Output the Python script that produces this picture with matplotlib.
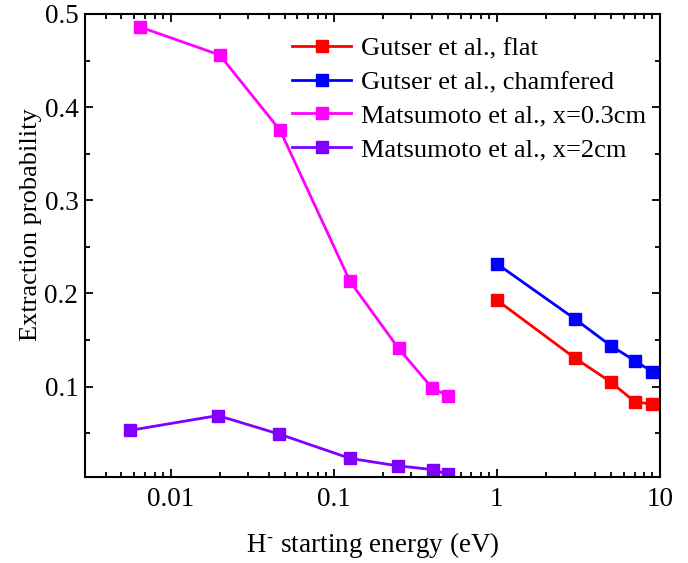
# extraction probability vs H- starting energy
import matplotlib
matplotlib.use("Agg")
import matplotlib.pyplot as plt
from matplotlib.ticker import MultipleLocator, FixedLocator, LogLocator, NullFormatter

plt.rcParams["font.family"] = ["Liberation Serif", "DejaVu Serif"]
plt.rcParams["mathtext.fontset"] = "stix"

# Gutser et al. (flat and chamfered)
gutser_energy = [1, 3, 5, 7, 9]
gutser_flat = [0.193, 0.131, 0.105, 0.084, 0.081]
gutser_chamfered = [0.232, 0.173, 0.144, 0.128, 0.116]

# Matsumoto et al.
mats_energy_03 = [0.0065, 0.02, 0.047, 0.126, 0.25, 0.40, 0.50]
mats_03 = [0.486, 0.456, 0.375, 0.213, 0.141, 0.099, 0.090]
mats_energy_2 = [0.0056, 0.0195, 0.0465, 0.126, 0.248, 0.405, 0.50]
mats_2 = [0.053, 0.069, 0.049, 0.023, 0.015, 0.011, 0.006]

fig = plt.figure(figsize=(6.88, 5.63), dpi=100)
ax = fig.add_axes([0.124, 0.1522, 0.835, 0.823])

style = dict(marker="s", markersize=8, linewidth=2)
ax.plot(gutser_energy, gutser_flat, color="#FF0000", label="Gutser et al., flat", **style)
ax.plot(gutser_energy, gutser_chamfered, color="#0000FF", label="Gutser et al., chamfered", **style)
ax.plot(mats_energy_03, mats_03, color="#FF00FF", label="Matsumoto et al., x=0.3cm", **style)
ax.plot(mats_energy_2, mats_2, color="#8000FF", label="Matsumoto et al., x=2cm", **style)

ax.set_xscale("log")
ax.set_xlim(0.003, 10)
ax.set_ylim(0.0027, 0.5)

ax.xaxis.set_major_locator(FixedLocator([0.01, 0.1, 1, 10]))
ax.xaxis.set_minor_locator(LogLocator(base=10, subs=range(2, 10)))
ax.xaxis.set_minor_formatter(NullFormatter())
ax.set_xticklabels(["0.01", "0.1", "1", "10"])
ax.yaxis.set_major_locator(FixedLocator([0.1, 0.2, 0.3, 0.4, 0.5]))
ax.set_yticklabels(["0.1", "0.2", "0.3", "0.4", "0.5"])
ax.yaxis.set_minor_locator(MultipleLocator(0.05))

ax.tick_params(which="both", direction="in", top=True, right=True, width=1.3, labelsize=19.5)
ax.tick_params(which="major", length=6)
ax.tick_params(which="minor", length=3.5)
ax.tick_params(axis="x", which="major", pad=7)
ax.tick_params(axis="y", which="major", pad=5)
for s in ax.spines.values():
    s.set_linewidth(1.5)

ax.set_xlabel("H$^{\\text{-}}$ starting energy (eV)", fontsize=19.5, labelpad=13)
ax.set_ylabel("Extraction probability", fontsize=19, labelpad=2, y=0.545)

ax.legend(loc="upper left", bbox_to_anchor=(0.36, 0.95), frameon=False, fontsize=19,
          handlelength=2.25, handletextpad=0.37, labelspacing=0.38, borderpad=0,
          borderaxespad=0)

fig.savefig("out.png", dpi=100)
